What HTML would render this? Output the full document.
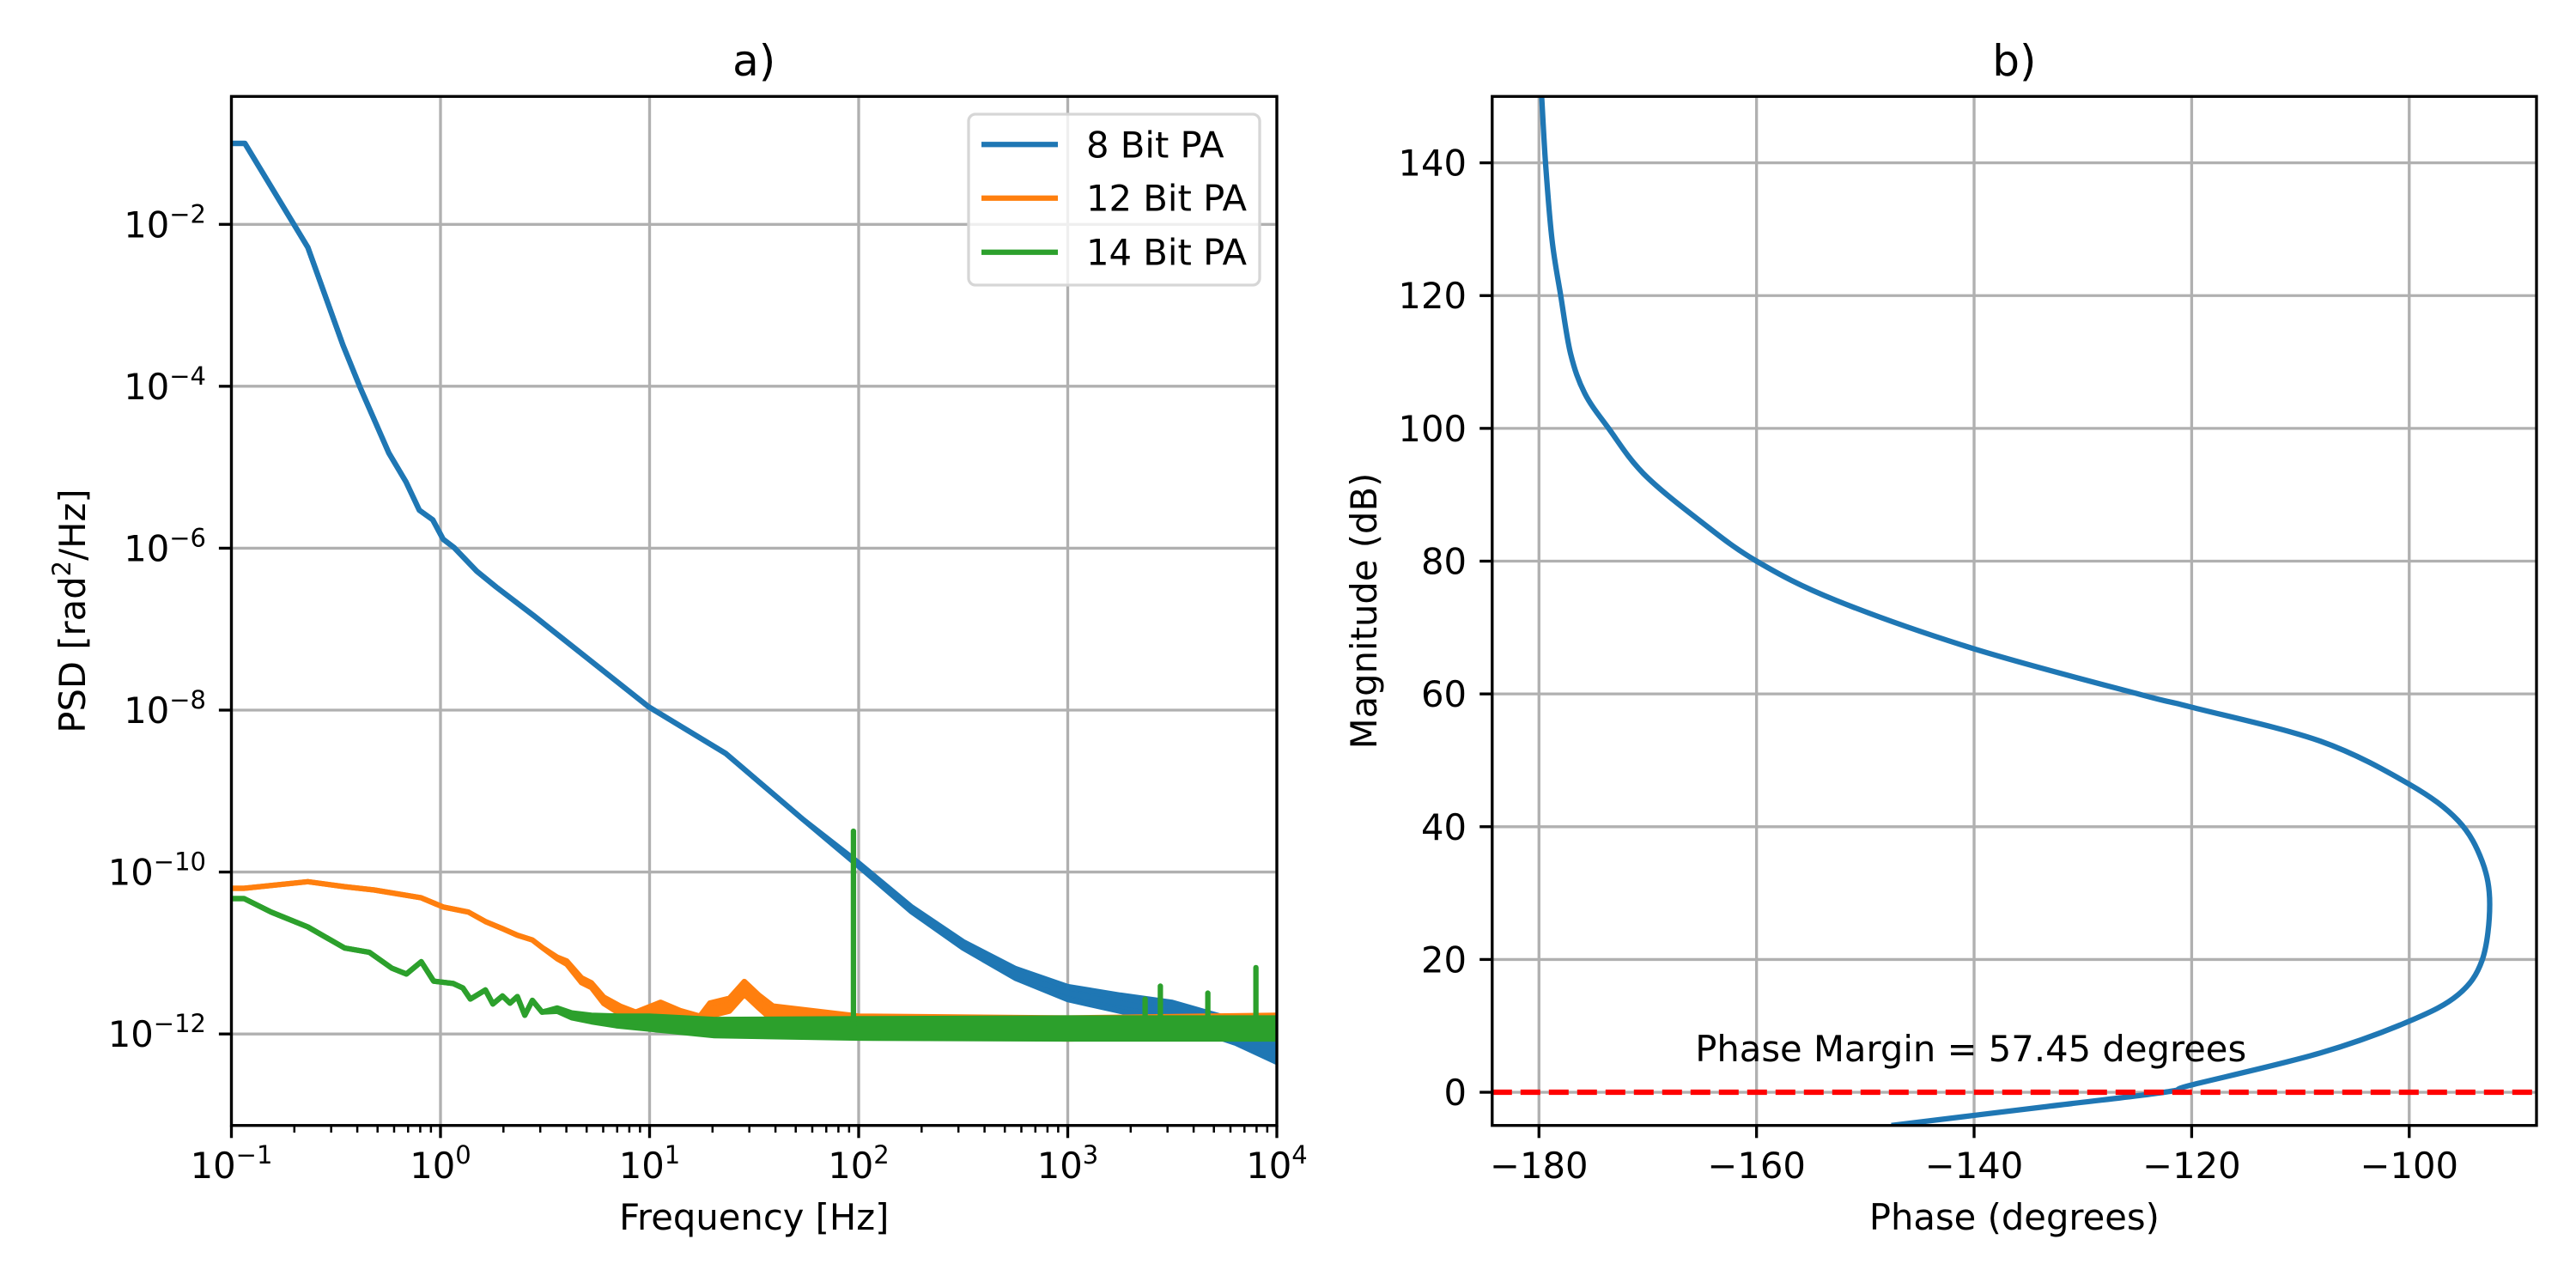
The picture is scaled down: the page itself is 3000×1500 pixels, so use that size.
<!DOCTYPE html>
<html><head><meta charset="utf-8"><style>
html,body{margin:0;padding:0;background:#fff;}
svg{display:block;font-family:"DejaVu Sans","Liberation Sans",sans-serif;}
</style></head><body>
<svg id="fig" xmlns="http://www.w3.org/2000/svg" width="3000" height="1500" viewBox="0 0 3000 1500"></svg>
<script>
// ---- Panel a) data ----
const blueFreq = [0.1,0.116,0.232,0.342,0.412,0.566,0.684,0.792,0.918,1.03,1.16,1.49,1.85,2.81,9.89,23.2,54,97.7,178,316,562,1000,1778,3162,6310,10000];
const bluePsd = [0.1,0.1,5.2e-3,3.2e-4,9.8e-5,1.5e-5,6.6e-6,2.95e-6,2.24e-6,1.29e-6,1.02e-6,5.2e-7,3.3e-7,1.45e-7,1.1e-8,2.9e-9,4.5e-10,1.3e-10,3.5e-11,1.26e-11,5.6e-12,3.2e-12,2.4e-12,1.86e-12,1.07e-12,6.3e-13];
const blueSpread = [0,0,0,0,0,0,0,0,0,0,0,0,0,0,0,0,0,0.02,0.03,0.04,0.06,0.08,0.1,0.12,0.14,0.15];

const orangeFreq = [0.1,0.115,0.232,0.348,0.483,0.809,1.03,1.36,1.64,1.98,2.33,2.75,3.06,3.61,4.02,4.73,5.27,6.04,7.29,8.59,11.3,14.0,17.4,19.4,24.1,28.4,33.4,38.9,100,1000,10000];
const orangePsd = [6.3e-11,6.3e-11,7.6e-11,6.6e-11,6.0e-11,4.8e-11,3.7e-11,3.2e-11,2.45e-11,2.0e-11,1.66e-11,1.45e-11,1.17e-11,8.7e-12,7.6e-12,4.6e-12,4.0e-12,2.6e-12,1.95e-12,1.62e-12,2.1e-12,1.62e-12,1.38e-12,2.0e-12,2.3e-12,3.7e-12,2.5e-12,1.8e-12,1.26e-12,1.17e-12,1.26e-12];
const orangeSpread = [0,0,0,0,0,0,0,0,0,0,0,0,0,0.01,0.02,0.03,0.03,0.04,0.05,0.06,0.07,0.08,0.08,0.08,0.08,0.08,0.08,0.09,0.12,0.13,0.13];

const greenFreq = [0.1,0.115,0.155,0.232,0.348,0.457,0.585,0.687,0.809,0.927,1.15,1.28,1.39,1.64,1.78,1.98,2.15,2.33,2.53,2.75,3.06,3.61,4.24,5.27,6.92,10,20.4,100,1000,10000];
const greenPsd = [4.7e-11,4.7e-11,3.2e-11,2.1e-11,1.15e-11,1.02e-11,6.5e-12,5.5e-12,7.8e-12,4.5e-12,4.2e-12,3.7e-12,2.7e-12,3.5e-12,2.35e-12,2.95e-12,2.4e-12,2.9e-12,1.7e-12,2.6e-12,1.86e-12,2.0e-12,1.7e-12,1.55e-12,1.45e-12,1.38e-12,1.2e-12,1.17e-12,1.17e-12,1.17e-12];
const greenSpread = [0,0,0,0,0,0,0,0,0,0,0,0,0,0,0,0,0,0,0,0,0,0.02,0.03,0.04,0.06,0.08,0.1,0.12,0.13,0.13];
const greenSpikeFreq = [94.4,2344,2773,4677,7943];
const greenSpikePsd = [3.2e-10,2.7e-12,3.9e-12,3.2e-12,6.6e-12];

const xTickExp = [-1,0,1,2,3,4];
const yTickExp = [-2,-4,-6,-8,-10,-12];
const legendLabels = ["8 Bit PA","12 Bit PA","14 Bit PA"];

// ---- Panel b) data ----
const phaseDeg = [-179.75,-179.4,-178.8,-178.0,-177.1,-175.8,-173.6,-170.4,-165.3,-160,-152.7,-140,-124.7,-120,-108.2,-100,-95.5,-93.3,-92.6,-93.3,-95.5,-100,-108.2,-120,-122.5,-133.6,-147.6];
const magDb = [150,140,128.4,120,111.3,105.3,100,93.2,86.2,80,74.1,66.8,59.9,58,52.9,46.4,40.9,34.8,28.3,19.9,14.7,10.7,5.9,1.1,0,-2.2,-5.0];
const phaseTicks = [-180,-160,-140,-120,-100];
const magTicks = [0,20,40,60,80,100,120,140];
const phaseMarginValue = 57.45;

const NS = "http://www.w3.org/2000/svg";
const svg = document.getElementById('fig');
function mk(tag, attrs, parent){
  const e = document.createElementNS(NS, tag);
  for (const k in attrs) e.setAttribute(k, attrs[k]);
  (parent||svg).appendChild(e);
  return e;
}
const C = {blue:'#1f77b4', orange:'#ff7f0e', green:'#2ca02c', grid:'#b0b0b0'};
const FS = 41.7, LW = 6.25, GW = 3.33;

const A = {x0:269.5, x1:1487, y0:112.3, y1:1310.7, lx0:-1, lx1:4, ly0:-0.42, ly1:-13.13};
function ax(f){ return A.x0 + (Math.log10(f)-A.lx0)/(A.lx1-A.lx0)*(A.x1-A.x0); }
function ayLog(l){ return A.y0 + (A.ly0-l)/(A.ly0-A.ly1)*(A.y1-A.y0); }
function ay(p){ return ayLog(Math.log10(p)); }
const B = {x0:1737.8, x1:2954, y0:112.3, y1:1310.7, xmin:-184.3, xmax:-88.3, ymin:-5, ymax:150};
function bx(v){ return B.x0 + (v-B.xmin)/(B.xmax-B.xmin)*(B.x1-B.x0); }
function by(v){ return B.y1 - (v-B.ymin)/(B.ymax-B.ymin)*(B.y1-B.y0); }

function smoothPath(pts){
  let d = 'M'+pts[0][0].toFixed(1)+','+pts[0][1].toFixed(1);
  for (let i=0;i<pts.length-1;i++){
    const p0 = pts[Math.max(0,i-1)], p1 = pts[i], p2 = pts[i+1], p3 = pts[Math.min(pts.length-1,i+2)];
    const c1x = p1[0]+(p2[0]-p0[0])/6, c1y = p1[1]+(p2[1]-p0[1])/6;
    const c2x = p2[0]-(p3[0]-p1[0])/6, c2y = p2[1]-(p3[1]-p1[1])/6;
    d += ' C'+c1x.toFixed(1)+','+c1y.toFixed(1)+' '+c2x.toFixed(1)+','+c2y.toFixed(1)+' '+p2[0].toFixed(1)+','+p2[1].toFixed(1);
  }
  return d;
}

const defs = mk('defs',{});
const cpA = mk('clipPath',{id:'clipA'},defs); mk('rect',{x:A.x0,y:A.y0,width:A.x1-A.x0,height:A.y1-A.y0},cpA);
const cpB = mk('clipPath',{id:'clipB'},defs); mk('rect',{x:B.x0,y:B.y0,width:B.x1-B.x0,height:B.y1-B.y0},cpB);

// ---------- Panel a ----------
const gA = mk('g',{});


xTickExp.forEach(e=>{
  const x = ax(Math.pow(10,e));
  const l = mk('line',{x1:x,x2:x,y1:A.y0,y2:A.y1,stroke:C.grid,'stroke-width':GW},gA);
  
  
});
yTickExp.forEach(e=>{
  const y = ayLog(e);
  const l = mk('line',{x1:A.x0,x2:A.x1,y1:y,y2:y,stroke:C.grid,'stroke-width':GW},gA);
  
  
});
const sA = mk('g',{'clip-path':'url(#clipA)'},gA);
function band(freq, psd, spread, color, name){
  const up = [], lo = [];
  for (let i=0;i<freq.length;i++){
    const l = Math.log10(psd[i]);
    up.push(ax(freq[i]).toFixed(1)+','+ayLog(l+spread[i]).toFixed(1));
    lo.unshift(ax(freq[i]).toFixed(1)+','+ayLog(l-spread[i]).toFixed(1));
  }
  const p = mk('polygon',{points:up.concat(lo).join(' '),fill:color,stroke:color,'stroke-width':LW,'stroke-linejoin':'round'},sA);
  
  
  const pts = freq.map((f,i)=>ax(f).toFixed(1)+','+ay(psd[i]).toFixed(1)).join(' ');
  const pl = mk('polyline',{points:pts,fill:'none',stroke:color,'stroke-width':LW,'stroke-linejoin':'round'},sA);
  
  
}
band(blueFreq,bluePsd,blueSpread,C.blue,'8-bit-pa');
band(orangeFreq,orangePsd,orangeSpread,C.orange,'12-bit-pa');
band(greenFreq,greenPsd,greenSpread,C.green,'14-bit-pa');
greenSpikeFreq.forEach((f,i)=>{
  const x = ax(f);
  const l = mk('line',{x1:x,x2:x,y1:ay(1.17e-12),y2:ay(greenSpikePsd[i]),stroke:C.green,'stroke-width':LW,'stroke-linecap':'round'},sA);
  
  
});
const fA = mk('rect',{x:A.x0,y:A.y0,width:A.x1-A.x0,height:A.y1-A.y0,fill:'none',stroke:'#000','stroke-width':GW},gA);


xTickExp.forEach(e=>{
  const x = ax(Math.pow(10,e));
  mk('line',{x1:x,x2:x,y1:A.y1,y2:A.y1+14.6,stroke:'#000','stroke-width':GW},gA);
  const t = mk('text',{x:x,y:1372,'font-size':FS,'text-anchor':'middle'},gA);
  
  
  t.innerHTML = '10<tspan font-size="29" dy="-17">'+(e<0?'\u2212'+(-e):e)+'</tspan>';
  if (e<4) for (let m=2;m<=9;m++){
    const xm = ax(m*Math.pow(10,e));
    mk('line',{x1:xm,x2:xm,y1:A.y1,y2:A.y1+8.3,stroke:'#000','stroke-width':2.5},gA);
  }
});
yTickExp.forEach(e=>{
  const y = ayLog(e);
  mk('line',{x1:A.x0,x2:A.x0-14.6,y1:y,y2:y,stroke:'#000','stroke-width':GW},gA);
  const t = mk('text',{x:240,y:y+15,'font-size':FS,'text-anchor':'end'},gA);
  
  
  t.innerHTML = '10<tspan font-size="29" dy="-17">\u2212'+(-e)+'</tspan>';
});
let t;
t = mk('text',{x:(A.x0+A.x1)/2,y:1432,'font-size':FS,'text-anchor':'middle'},gA);
 
t.textContent = 'Frequency [Hz]';
t = mk('text',{x:0,y:0,'font-size':FS,'text-anchor':'middle',transform:'translate(99,'+((A.y0+A.y1)/2)+') rotate(-90)'},gA);
 
t.innerHTML = 'PSD [rad<tspan font-size="29" dy="-17">2</tspan><tspan dy="17">/Hz]</tspan>';
t = mk('text',{x:(A.x0+A.x1)/2,y:88,'font-size':50,'text-anchor':'middle'},gA);
 
t.textContent = 'a)';
const lg = mk('g',{},gA);


mk('rect',{x:1128,y:133,width:339,height:199,rx:8,fill:'rgba(255,255,255,0.8)',stroke:'#d6d6d6','stroke-width':3.3},lg);
const legColors = [C.blue,C.orange,C.green];
const legY = [168.3,230.7,293.7];
legendLabels.forEach((lab,i)=>{
  const e = mk('g',{},lg);
  
  
  mk('line',{x1:1143,x2:1232,y1:legY[i],y2:legY[i],stroke:legColors[i],'stroke-width':LW},e);
  const tx = mk('text',{x:1265,y:legY[i]+15,'font-size':FS},e);
  tx.textContent = lab;
});

// ---------- Panel b ----------
const gB = mk('g',{});


phaseTicks.forEach(v=>{
  const x = bx(v);
  const l = mk('line',{x1:x,x2:x,y1:B.y0,y2:B.y1,stroke:C.grid,'stroke-width':GW},gB);
   
});
magTicks.forEach(v=>{
  const y = by(v);
  const l = mk('line',{x1:B.x0,x2:B.x1,y1:y,y2:y,stroke:C.grid,'stroke-width':GW},gB);
   
});
const sB = mk('g',{'clip-path':'url(#clipB)'},gB);
const curve = mk('path',{d:smoothPath(phaseDeg.map((p,i)=>[bx(p),by(magDb[i])])),fill:'none',stroke:C.blue,'stroke-width':LW,'stroke-linejoin':'round'},sB);
 
const zl = mk('line',{x1:B.x0,x2:B.x1,y1:by(0),y2:by(0),stroke:'#ff0000','stroke-width':LW,'stroke-dasharray':'23,10'},sB);
 
const fB = mk('rect',{x:B.x0,y:B.y0,width:B.x1-B.x0,height:B.y1-B.y0,fill:'none',stroke:'#000','stroke-width':GW},gB);
 
phaseTicks.forEach(v=>{
  const x = bx(v);
  mk('line',{x1:x,x2:x,y1:B.y1,y2:B.y1+14.6,stroke:'#000','stroke-width':GW},gB);
  const tx = mk('text',{x:x,y:1372,'font-size':FS,'text-anchor':'middle'},gB);
   
  tx.textContent = '\u2212'+(-v);
});
magTicks.forEach(v=>{
  const y = by(v);
  mk('line',{x1:B.x0,x2:B.x0-14.6,y1:y,y2:y,stroke:'#000','stroke-width':GW},gB);
  const tx = mk('text',{x:1708,y:y+15,'font-size':FS,'text-anchor':'end'},gB);
   
  tx.textContent = String(v);
});
t = mk('text',{x:(B.x0+B.x1)/2,y:1432,'font-size':FS,'text-anchor':'middle'},gB);
 
t.textContent = 'Phase (degrees)';
t = mk('text',{x:0,y:0,'font-size':FS,'text-anchor':'middle',transform:'translate(1603,'+((B.y0+B.y1)/2)+') rotate(-90)'},gB);
 
t.textContent = 'Magnitude (dB)';
t = mk('text',{x:(B.x0+B.x1)/2,y:88,'font-size':50,'text-anchor':'middle'},gB);
 
t.textContent = 'b)';
t = mk('text',{x:bx(-140.3),y:1236,'font-size':FS,'text-anchor':'middle'},gB);
 
t.textContent = 'Phase Margin = '+phaseMarginValue.toFixed(2)+' degrees';
</script>
</body></html>
